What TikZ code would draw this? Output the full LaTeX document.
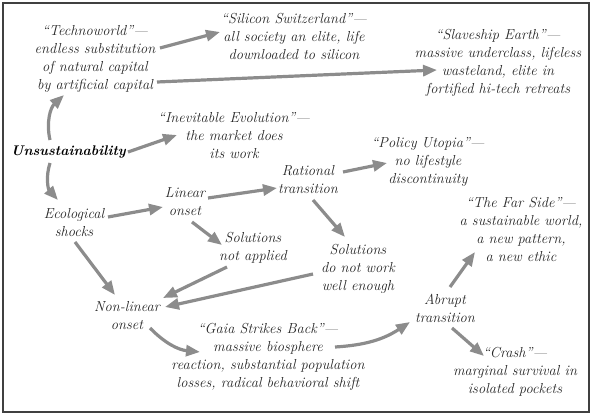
\documentclass[tikz,border=0pt]{standalone}
\usepackage{tikz}
\usetikzlibrary{arrows.meta}

\tikzset{
  txt/.style={align=center, font=\fontsize{14.5}{18}\selectfont\itshape, text=black!85, inner sep=0pt},
  arr/.style={-{Triangle[length=14pt,width=11pt]}, line width=3.2pt, draw=black!45},
}

\begin{document}
\begin{tikzpicture}[x=1pt,y=-1pt]
    \useasboundingbox (0,0) rectangle (593,419);
    \draw[black!75, line width=1.2pt] (3,3) rectangle (589,412);
    % Below nodes are the scenarios.
        \node[txt] (techno) at (95,59) {“Technoworld”—\\endless substitution\\of natural capital\\by artificial capital};
        \node[txt] (silicon) at (294,36.5) {“Silicon Switzerland”—\\all society an elite, life\\downloaded to silicon};
        \node[txt] (slave) at (498,63) {“Slaveship Earth”—\\massive underclass, lifeless\\wasteland, elite in\\fortified hi-tech retreats};
        \node[txt] (inev) at (234,136) {“Inevitable Evolution”—\\the market does\\its work};
        \node[txt, font=\fontsize{14}{18}\selectfont\bfseries\itshape, text=black] (unsus) at (68.5,152) {Unsustainability};
        \node[txt] (policy) at (428,161.5) {“Policy Utopia”—\\no lifestyle\\discontinuity};
        \node[txt] (rational) at (308,179.5) {Rational\\transition};
        \node[txt] (linear) at (185,202) {Linear\\onset};
        \node[txt] (eco) at (74,222.5) {Ecological\\shocks};
        \node[txt] (notapp) at (253,248) {Solutions\\not applied};
        \node[txt] (farside) at (521,229.5) {“The Far Side”—\\a sustainable world,\\a new pattern,\\a new ethic};
        \node[txt] (notwork) at (358,269) {Solutions\\do not work\\well enough};
        \node[txt] (nonlin) at (127,316) {Non-linear\\onset};
        \node[txt] (abrupt) at (445,308) {Abrupt\\transition};
        \node[txt] (gaia) at (268,357) {“Gaia Strikes Back”—\\massive biosphere\\reaction, substantial population\\losses, radical behavioral shift};
        \node[txt] (crash) at (515,372) {“Crash”—\\marginal survival in\\isolated pockets};
    % These draw the arrows.
        \draw[arr] ([shift={(-18.5,-12)}]unsus.center) to[bend left=30] ([shift={(-31,36)}]techno.center);
        \draw[arr] ([shift={(-18.5,11)}]unsus.center) to[bend right=30] ([shift={(-16,-22.5)}]eco.center);
        \draw[arr] ([shift={(59.5,0)}]unsus.center) -- ([shift={(-57,-1)}]inev.center);
        \draw[arr] ([shift={(65,-11)}]techno.center) -- ([shift={(-74,-4.5)}]silicon.center);
        \draw[arr] ([shift={(62,23)}]techno.center) -- ([shift={(-61,7)}]slave.center);
        \draw[arr] ([shift={(34,-5.5)}]eco.center) -- ([shift={(-22,5)}]linear.center);
        \draw[arr] ([shift={(23,-4)}]linear.center) -- ([shift={(-31,8.5)}]rational.center);
        \draw[arr] ([shift={(35,-7.5)}]rational.center) -- ([shift={(-41,1.5)}]policy.center);
        \draw[arr] ([shift={(7,20)}]linear.center) -- ([shift={(-31,-3)}]notapp.center);
        \draw[arr] ([shift={(5,20.5)}]rational.center) -- ([shift={(-13,-32)}]notwork.center);
        \draw[arr] ([shift={(1,19.5)}]eco.center) -- ([shift={(-12,-21)}]nonlin.center);
        \draw[arr] ([shift={(-26,19)}]notapp.center) -- ([shift={(36,-18)}]nonlin.center);
        \draw[arr] ([shift={(-45,5)}]notwork.center) -- ([shift={(38,-9)}]nonlin.center);
        \draw[arr] ([shift={(23,12)}]nonlin.center) to[bend right=20] ([shift={(-68,-5)}]gaia.center);
        \draw[arr] ([shift={(67,-10)}]gaia.center) to[bend right=15] ([shift={(-35,14)}]abrupt.center);
        \draw[arr] ([shift={(5,-21)}]abrupt.center) -- ([shift={(-46,22.5)}]farside.center);
        \draw[arr] ([shift={(7,20)}]abrupt.center) -- ([shift={(-31,-16)}]crash.center);
\end{tikzpicture}
\end{document}
